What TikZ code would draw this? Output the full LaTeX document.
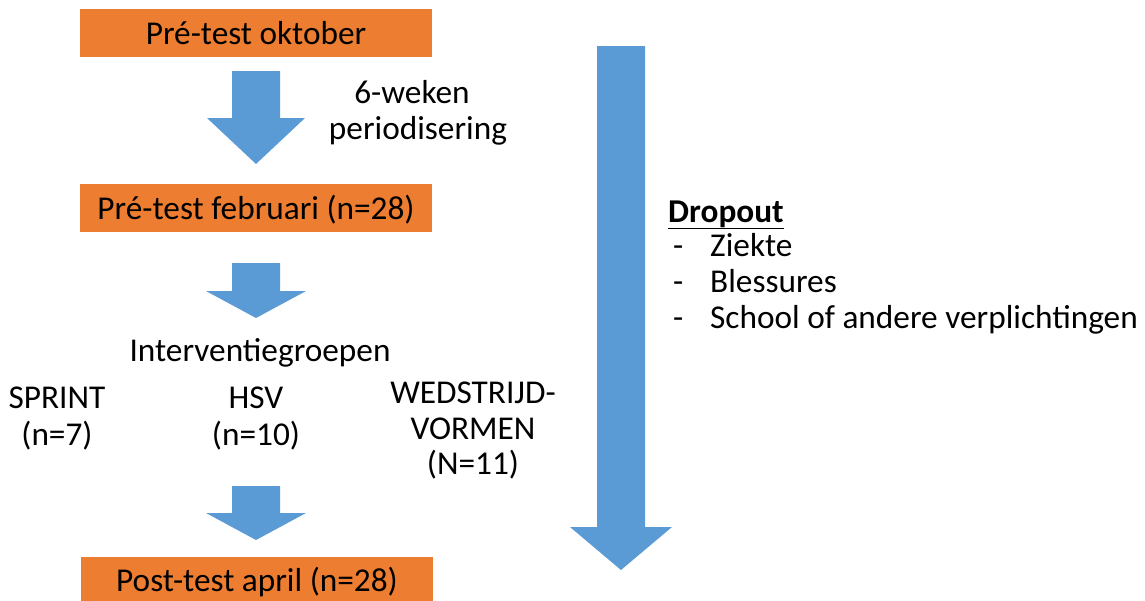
\documentclass[tikz,border=0pt]{standalone}
\usepackage{fontspec}
\setmainfont{Carlito}
\definecolor{orng}{HTML}{ED7D31}
\definecolor{blu}{HTML}{5B9BD5}
\newcommand\blkarrow[6]{\fill[blu] (#1-#5,#2) -- (#1+#5,#2) -- (#1+#5,#3) -- (#1+#6,#3) -- (#1,#4) -- (#1-#6,#3) -- (#1-#5,#3) -- cycle;}
\begin{document}
\begin{tikzpicture}[x=1pt,y=-1pt,
  every node/.style={font=\fontsize{33.3}{36}\selectfont, inner sep=0pt, text=black},
  orbox/.style={fill=orng, minimum width=352pt, minimum height=48pt},
  lbl/.style={anchor=base, align=center}]
\useasboundingbox (0,0) rectangle (1145,600);
% boxes
\node[orbox] (b1) at (256,33) {};
\node[lbl] (t1) at (256,44) {Pré-test oktober};
\node[orbox] (b2) at (256,207.5) {};
\node[lbl] (t2) at (256,219) {Pré-test februari (n=28)};
\node[orbox, minimum height=46pt] (b3) at (257,580) {};
\node[lbl] (t3) at (257,591) {Post-test april (n=28)};
% small arrows
\blkarrow{256}{71}{118}{164}{24}{49}
\blkarrow{256}{263}{291}{318}{24}{50}
\blkarrow{256}{486}{513}{540}{24}{50}
% big arrow
\blkarrow{621}{46}{527}{570}{24}{51}
% labels
\node[lbl] (w1) at (412,103) {6-weken};
\node[lbl] (w2) at (418,139) {periodisering};
\node[lbl] (ig) at (260,361) {Interventiegroepen};
\node[lbl] (s1) at (57,408) {SPRINT};
\node[lbl] (s2) at (57,445) {(n=7)};
\node[lbl] (h1) at (256,408) {HSV};
\node[lbl] (h2) at (256,445) {(n=10)};
\node[lbl] (v1) at (473,403) {WEDSTRIJD-};
\node[lbl] (v2) at (473,439) {VORMEN};
\node[lbl] (v3) at (473,474) {(N=11)};
% dropout
\node[anchor=base west] (d0) at (668,222) {\textbf{\underline{Dropout}}};
\node[anchor=base west] (d1a) at (673,256) {-};
\node[anchor=base west] (d1) at (710,256) {Ziekte};
\node[anchor=base west] (d2a) at (673,292) {-};
\node[anchor=base west] (d2) at (710,292) {Blessures};
\node[anchor=base west] (d3a) at (673,328) {-};
\node[anchor=base west] (d3) at (710,328) {School of andere verplichtingen};
\end{tikzpicture}
\end{document}
